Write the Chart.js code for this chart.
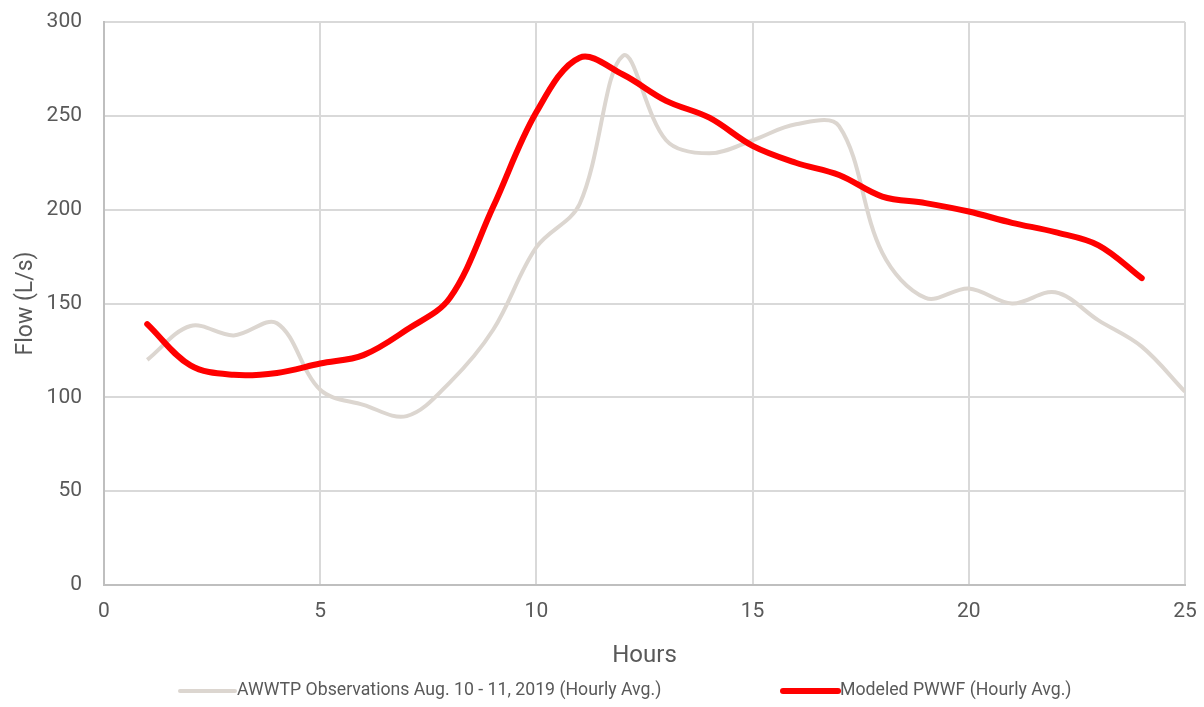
<!DOCTYPE html>
<html>
<head>
<meta charset="utf-8">
<script src="https://cdn.jsdelivr.net/npm/chart.js@4/dist/chart.umd.min.js"></script>
<style>
  html, body { margin: 0; padding: 0; background: #ffffff; }
  #wrap { width: 1204px; height: 707px; position: relative; }
</style>
</head>
<body>
<div id="wrap"><canvas id="flow"></canvas></div>
<script>
// Hourly flow, L/s
const hours = [1, 2, 3, 4, 5, 6, 7, 8, 9, 10, 11, 12, 13, 14, 15, 16, 17, 18, 19, 20, 21, 22, 23, 24, 25];
const observedFlow = [120, 138, 133, 139.5, 104, 96, 90, 108, 136, 180, 203, 282, 237, 230, 237, 245.5, 244.5, 177, 153, 158, 150, 156, 141, 127, 103];
const modeledHours = [1, 2, 3, 4, 5, 6, 7, 8, 9, 10, 11, 12, 13, 14, 15, 16, 17, 18, 19, 20, 21, 22, 23, 24];
const modeledFlow = [139, 117, 112, 113, 118, 122.5, 136, 153, 201.5, 252, 281, 272, 258, 249, 234, 225, 218.5, 207, 203.5, 199, 193, 188, 181, 163.5];
const xTicks = [0, 5, 10, 15, 20, 25];
const yTicks = [0, 50, 100, 150, 200, 250, 300];

const observedLabel = 'AWWTP Observations Aug. 10 - 11, 2019 (Hourly Avg.)';
const modeledLabel = 'Modeled PWWF (Hourly Avg.)';
const observedColor = '#dcd6d0';
const modeledColor = '#ff0000';
const textColor = '#595959';

const toPoints = (xs, ys) => xs.map((x, i) => ({ x, y: ys[i] }));

// Legend drawn along the bottom edge: line sample followed by its label
const bottomLegend = {
  id: 'bottomLegend',
  afterDraw(chart) {
    const ctx = chart.ctx;
    const items = [
      { x: 180, len: 55, width: 4, color: observedColor, text: observedLabel },
      { x: 783, len: 55, width: 6, color: modeledColor, text: modeledLabel }
    ];
    const y = 691;
    ctx.save();
    ctx.font = '17.7px Roboto';
    ctx.fillStyle = textColor;
    ctx.textBaseline = 'middle';
    ctx.lineCap = 'round';
    items.forEach(it => {
      ctx.strokeStyle = it.color;
      ctx.lineWidth = it.width;
      ctx.beginPath();
      ctx.moveTo(it.x, y);
      ctx.lineTo(it.x + it.len, y);
      ctx.stroke();
      ctx.fillText(it.text, it.x + it.len + 2, y);
    });
    ctx.restore();
  }
};

new Chart(document.getElementById('flow'), {
  type: 'line',
  data: {
    datasets: [
      {
        label: observedLabel,
        data: toPoints(hours, observedFlow),
        borderColor: observedColor,
        borderWidth: 4,
        pointRadius: 0,
        tension: 0.35,
        fill: false,
        order: 2
      },
      {
        label: modeledLabel,
        data: toPoints(modeledHours, modeledFlow),
        borderColor: modeledColor,
        borderWidth: 6,
        pointRadius: 0,
        tension: 0.35,
        borderCapStyle: 'round',
        fill: false,
        order: 1
      }
    ]
  },
  options: {
    responsive: true,
    maintainAspectRatio: false,
    animation: false,
    layout: { padding: { top: 22, right: 19, bottom: 0, left: 0 } },
    plugins: {
      legend: { display: false },
      tooltip: { enabled: false }
    },
    scales: {
      x: {
        type: 'linear',
        min: 0,
        max: 25,
        afterBuildTicks: s => { s.ticks = xTicks.map(v => ({ value: v })); },
        afterFit: s => { s.height = 122; s.paddingLeft = 0; s.paddingRight = 0; },
        grid: { color: '#d9d9d9', lineWidth: 2, drawTicks: false },
        border: { color: '#bfbfbf', width: 2 },
        ticks: { color: textColor, font: { family: 'Roboto', size: 21 }, padding: 14, maxRotation: 0 },
        title: { display: true, text: 'Hours', color: textColor, font: { family: 'Roboto', size: 24 }, padding: { top: 0, bottom: 37 } }
      },
      y: {
        min: 0,
        max: 300,
        afterBuildTicks: s => { s.ticks = yTicks.map(v => ({ value: v })); },
        afterFit: s => { s.width = 104; s.paddingTop = 0; s.paddingBottom = 0; },
        grid: { color: '#d9d9d9', lineWidth: 2, drawTicks: false },
        border: { color: '#bfbfbf', width: 2 },
        ticks: { color: textColor, font: { family: 'Roboto', size: 21 }, padding: 22 },
        title: { display: true, text: 'Flow (L/s)', color: textColor, font: { family: 'Roboto', size: 23 }, padding: { top: 12, bottom: 0 } }
      }
    }
  },
  plugins: [bottomLegend]
});
</script>
</body>
</html>
